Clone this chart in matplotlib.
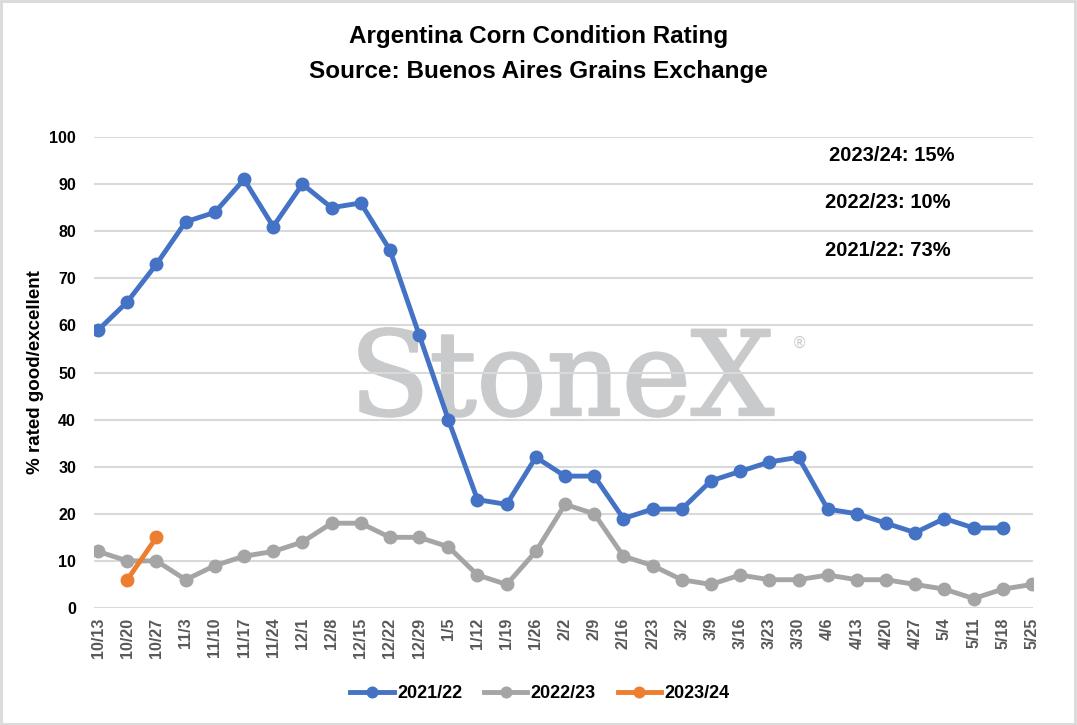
import matplotlib
matplotlib.use("Agg")
from matplotlib import pyplot as plt
from matplotlib.patches import Rectangle
import matplotlib.patheffects as pe

semanas = ["10/13", "10/20", "10/27", "11/3", "11/10", "11/17", "11/24", "12/1", "12/8",
           "12/15", "12/22", "12/29", "1/5", "1/12", "1/19", "1/26", "2/2", "2/9", "2/16",
           "2/23", "3/2", "3/9", "3/16", "3/23", "3/30", "4/6", "4/13", "4/20", "4/27",
           "5/4", "5/11", "5/18", "5/25"]

s2122 = [59, 65, 73, 82, 84, 91, 81, 90, 85, 86, 76, 58, 40, 23, 22, 32, 28, 28, 19,
         21, 21, 27, 29, 31, 32, 21, 20, 18, 16, 19, 17, 17]
s2223 = [12, 10, 10, 6, 9, 11, 12, 14, 18, 18, 15, 15, 13, 7, 5, 12, 22, 20, 11,
         9, 6, 5, 7, 6, 6, 7, 6, 6, 5, 4, 2, 4, 5]
s2324 = [None, 6, 15]

notas = ["2023/24: 15%", "2022/23: 10%", "2021/22: 73%"]

fuente = "Liberation Sans"

fig = plt.figure(figsize=(10.77, 7.25), dpi=100)
ax = fig.add_axes([0.0873, 0.1614, 0.8717, 0.6496])

x = list(range(len(semanas)))

# marca de agua (debajo de la cuadricula)
ax.text(0.498, 0.41, "StoneX", transform=ax.transAxes, ha="center", va="baseline",
        fontsize=84, family="DejaVu Serif", color="#c9cacc", zorder=0.2,
        path_effects=[pe.withStroke(linewidth=1.8, foreground="#c9cacc")])
ax.text(0.751, 0.563, "®", transform=ax.transAxes, ha="center", va="center",
        fontsize=11, family="DejaVu Sans", color="#c9cacc", zorder=0.2)

ax.plot(x[:len(s2122)], s2122, color="#4472c4", lw=3.5, marker="o", ms=9,
        label="2021/22", zorder=3)
ax.plot(x, s2223, color="#a5a5a5", lw=3.5, marker="o", ms=9, label="2022/23", zorder=3)
x24 = [i for i, v in enumerate(s2324) if v is not None]
ax.plot(x24, [v for v in s2324 if v is not None], color="#ed7d31", lw=3.5, marker="o",
        ms=9, label="2023/24", zorder=4)

ax.set_xlim(-0.14, 32.03)
ax.set_ylim(0, 100)
ax.set_yticks(range(0, 101, 10))
ax.set_xticks(x)
ax.set_xticklabels(semanas, rotation=90, color="#595959", fontsize=11.5, family=fuente,
                   fontweight="bold")
for t in ax.get_yticklabels():
    t.set_fontweight("bold")
    t.set_fontsize(11.5)
    t.set_family(fuente)
ax.set_axisbelow("line")
ax.grid(axis="y", color="#d9d9d9", lw=1.5)
for s in ax.spines.values():
    s.set_visible(False)
ax.tick_params(length=0, pad=7)
ax.tick_params(axis="y", pad=13)

ax.set_ylabel("% rated good/excellent", fontsize=13.5, fontweight="bold", family=fuente)
ax.yaxis.set_label_coords(-0.053, 0.5)

fig.text(0.5, 0.949, "Argentina Corn Condition Rating", ha="center", va="center",
         fontsize=17.5, fontweight="bold", family=fuente)
fig.text(0.5, 0.9007, "Source: Buenos Aires Grains Exchange", ha="center", va="center",
         fontsize=17.5, fontweight="bold", family=fuente)

pos_y = [0.786, 0.720, 0.655]
pos_x = [0.828, 0.824, 0.824]
for nota, px, py in zip(notas, pos_x, pos_y):
    fig.text(px, py, nota, ha="center", va="center", fontsize=14.5, fontweight="bold",
             family=fuente)

leg = ax.legend(loc="upper center", bbox_to_anchor=(0.475, -0.13), ncol=3, frameon=False,
                prop={"family": fuente, "weight": "bold", "size": 13}, handlelength=2.4,
                columnspacing=1.2, handletextpad=0.2, markerscale=0.85)

fig.patches.append(Rectangle((0.001, 0.001), 0.997, 0.997, transform=fig.transFigure,
                             fill=False, edgecolor="#d9d9d9", lw=2))

fig.savefig("out.png", dpi=100)
